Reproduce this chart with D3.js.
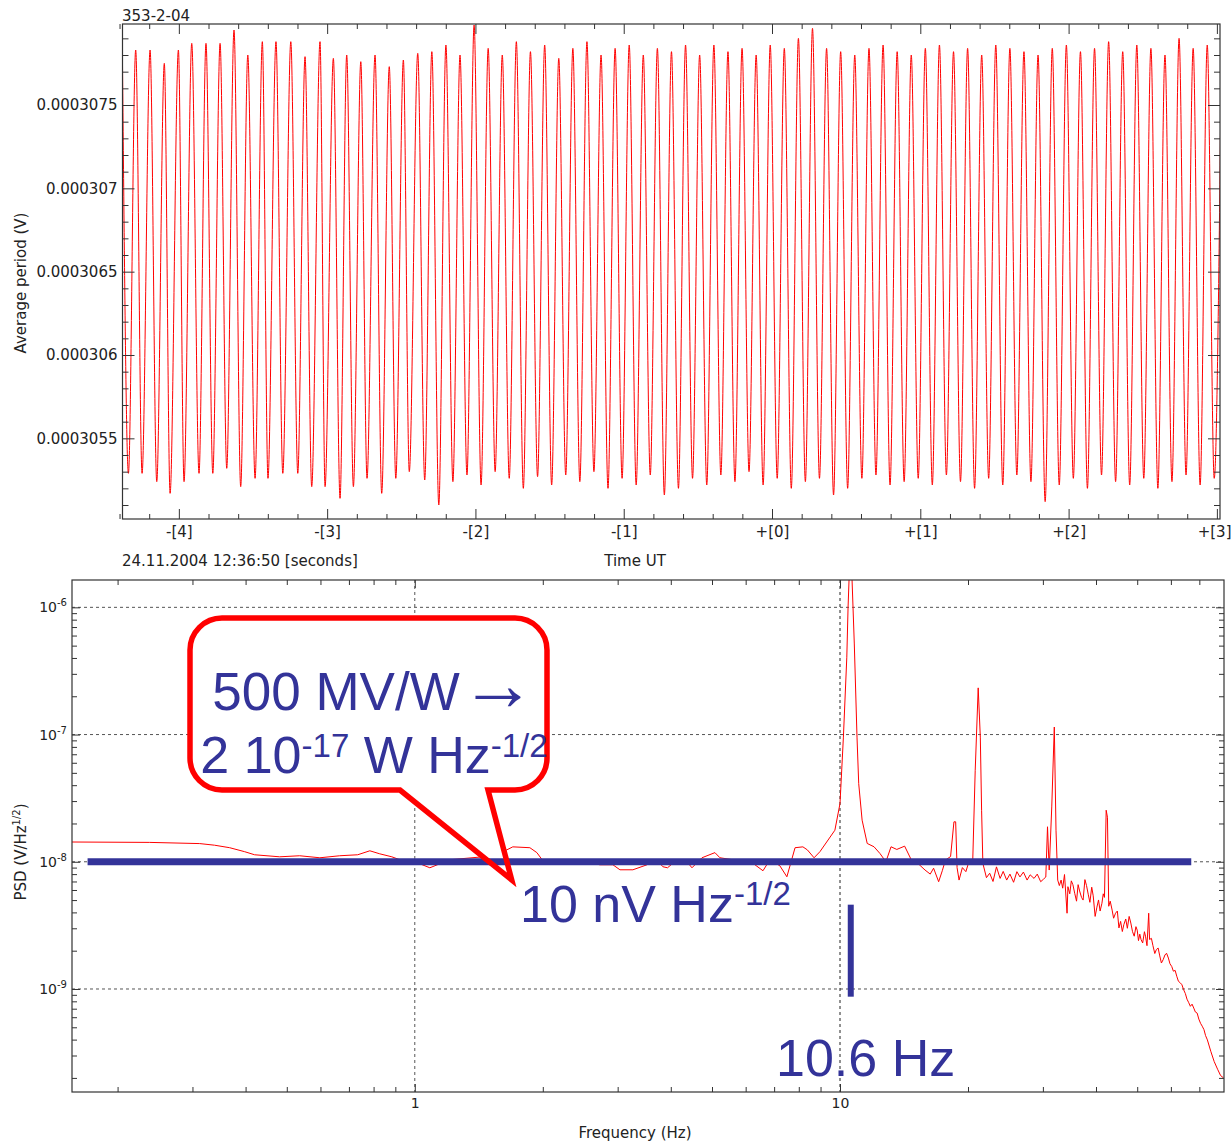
<!DOCTYPE html>
<html>
<head>
<meta charset="utf-8">
<title>Bolometer output and noise spectrum</title>
<script src="https://cdn.jsdelivr.net/npm/d3@7"></script>
<style>
  html, body { margin: 0; padding: 0; background: #fff; }
  svg { display: block; }
  text { white-space: pre; }
  .axis line { stroke: #333; }
  .axis text { font-family: "DejaVu Sans", sans-serif; fill: #222; }
  .lbl { font-family: "DejaVu Sans", sans-serif; fill: #222; }
  .note { font-family: "Liberation Sans", Arial, sans-serif; fill: #333399; }
</style>
</head>
<body>
<svg id="fig" width="1232" height="1142"></svg>
<script>
// ---------------- upper panel: averaged period signal ----------------
// turning points of the trace: time (s from 12:36:50) and value (µV)
const waveTime = [
  -4.380, -4.340, -4.291, -4.248, -4.194, -4.149, -4.098, -4.059, -4.003, -3.965,
  -3.913, -3.864, -3.817, -3.771, -3.722, -3.677, -3.628, -3.583, -3.535, -3.486,
  -3.437, -3.399, -3.345, -3.299, -3.245, -3.198, -3.149, -3.104, -3.048, -3.014,
  -2.958, -2.913, -2.868, -2.823, -2.773, -2.731, -2.677, -2.632, -2.581, -2.537,
  -2.486, -2.446, -2.389,
  -2.342, -2.294, -2.247, -2.199, -2.152, -2.104, -2.057, -2.009, -1.962, -1.914,
  -1.867, -1.819, -1.772, -1.724, -1.677, -1.629, -1.581, -1.533, -1.486, -1.438,
  -1.391, -1.343, -1.296, -1.248, -1.201, -1.153, -1.106, -1.058, -1.011, -0.963,
  -0.916, -0.868, -0.821, -0.773, -0.726, -0.678, -0.631, -0.583, -0.536, -0.488,
  -0.440, -0.392, -0.345, -0.297, -0.250, -0.202, -0.155, -0.107, -0.060, -0.012,
   0.035,  0.083,  0.130,  0.178,  0.225,  0.273,  0.320,  0.368,  0.415,  0.463,
   0.510,  0.558,  0.606,  0.654,  0.701,  0.749,  0.796,  0.844,  0.891,  0.939,
   0.986,  1.034,  1.081,  1.129,  1.176,  1.224,  1.271,  1.319,  1.366,  1.414,
   1.461,  1.509,  1.556,  1.604,  1.651,  1.699,  1.746,  1.794,  1.842,  1.890,
   1.937,  1.985,  2.032,  2.080,  2.127,  2.175,  2.222,  2.270,  2.317,  2.365,
   2.412,  2.460,  2.507,  2.555,  2.602,  2.650,  2.697,  2.745,  2.792,  2.840,
   2.887,  2.935,  2.982,  3.030
];
const waveValue = [
  307.74, 305.29, 307.83, 305.29, 307.83, 305.24, 307.75, 305.17, 307.83, 305.24,
  307.87, 305.29, 307.87, 305.29, 307.87, 305.32, 307.95, 305.21, 307.80, 305.26,
  307.88, 305.26, 307.88, 305.29, 307.88, 305.29, 307.79, 305.21, 307.88, 305.21,
  307.78, 305.14, 307.80, 305.21, 307.76, 305.26, 307.80, 305.17, 307.73, 305.26,
  307.77, 305.30, 307.81,
  305.25, 307.82, 305.10, 307.86, 305.24, 307.80, 305.28, 307.98, 305.22, 307.84,
  305.30, 307.80, 305.26, 307.88, 305.20, 307.82, 305.27, 307.86, 305.22, 307.78,
  305.28, 307.84, 305.24, 307.88, 305.30, 307.80, 305.20, 307.84, 305.26, 307.86,
  305.22, 307.80, 305.28, 307.84, 305.16, 307.82, 305.20, 307.86, 305.26, 307.80,
  305.22, 307.86, 305.28, 307.82, 305.24, 307.84, 305.30, 307.80, 305.22, 307.86,
  305.26, 307.84, 305.20, 307.90, 305.24, 307.96, 305.26, 307.84, 305.16, 307.82,
  305.20, 307.80, 305.26, 307.84, 305.28, 307.86, 305.22, 307.82, 305.24, 307.80,
  305.26, 307.84, 305.22, 307.86, 305.28, 307.82, 305.24, 307.84, 305.20, 307.80,
  305.26, 307.86, 305.22, 307.84, 305.28, 307.82, 305.24, 307.80, 305.12, 307.84,
  305.22, 307.86, 305.26, 307.82, 305.20, 307.84, 305.28, 307.88, 305.24, 307.82,
  305.22, 307.86, 305.26, 307.84, 305.20, 307.80, 305.24, 307.90, 305.28, 307.84,
  305.22, 307.86, 305.26, 307.78
];
const timeDomain = [-4.38, 3.021];
const valueDomain = [305.016, 307.986];            // µV
const timeTicks = [-4, -3, -2, -1, 0, 1, 2, 3];
const timeTickLabels = ["-[4]", "-[3]", "-[2]", "-[1]", "+[0]", "+[1]", "+[2]", "+[3]"];
const valueTicks = [305.5, 306, 306.5, 307, 307.5];  // µV
const valueTickLabels = ["0.0003055", "0.000306", "0.0003065", "0.000307", "0.0003075"];

// ---------------- lower panel: noise spectral density ----------------
const psdFreq = [
  0.15625, 0.238, 0.312, 0.338, 0.367, 0.398, 0.420, 0.481, 0.536, 0.598,
  0.666, 0.734, 0.784, 0.827, 0.883, 0.922, 1.0, 1.085, 1.209, 1.445,
  1.646, 1.70, 1.865, 1.937, 2.0, 2.16, 2.354, 2.581, 2.725, 2.924,
  3.037, 3.258, 3.516, 3.71, 3.832, 3.93, 4.135, 4.365, 4.486, 4.735,
  5.08, 5.22, 5.60, 6.04, 6.31, 6.59, 6.84, 7.22, 7.50, 7.84,
  8.18, 8.38, 8.69, 8.97, 9.727, 10.0, 10.186, 10.375, 10.447, 10.51,
  10.666, 10.805, 10.965, 11.066, 11.272, 11.588, 12.023, 12.417, 12.823, 13.183,
  13.6, 14.191, 14.723, 15.2, 15.849, 16.3, 16.6, 17.061, 17.4, 17.701,
  18.2, 18.535, 18.707, 18.85, 19.055, 19.4, 19.770, 20.1, 20.512, 20.797,
  21.135, 21.380, 21.528, 21.677, 22.1, 22.491, 22.9, 23.335, 23.8, 24.2,
  24.660, 25.1, 25.6, 26.061, 26.5, 27.0, 27.542, 28.0, 28.6, 29.1,
  29.648, 30.1, 30.479, 30.761, 31.046, 31.477, 31.915, 32.211, 32.509, 32.8,
  33.113, 33.4, 33.729, 34.198, 34.356, 34.7, 34.995, 35.3, 35.645, 36.0,
  36.308, 36.6, 36.983, 37.3, 37.670, 38.0, 38.371, 38.7, 39.084, 39.4,
  39.811, 40.2, 40.551, 40.9, 41.305, 41.6, 41.879, 42.267, 42.560, 42.855,
  43.2, 43.652, 44.0, 44.463, 44.9, 45.290, 45.7, 46.132, 46.5, 46.989,
  47.4, 47.863, 48.3, 48.753, 49.2, 49.659, 50.0, 50.350, 50.7, 51.050,
  51.5, 51.999, 52.3, 52.723, 53.211, 53.456, 54.0, 54.450, 55.0, 55.463,
  56.0, 56.494, 57.0, 57.544, 58.1, 58.614, 59.2, 59.704, 60.3, 60.814,
  61.4, 61.944, 62.5, 63.096, 63.7, 64.269, 64.9, 65.464, 66.1, 66.681,
  67.3, 67.920, 68.5, 69.183, 69.8, 70.469, 71.1, 71.779, 72.4, 73.114,
  74.473, 75.858, 77.268, 78.524, 79.8
];
const psdValue = [
  1.43e-8, 1.42e-8, 1.39e-8, 1.35e-8, 1.29e-8, 1.20e-8, 1.135e-8, 1.094e-8, 1.115e-8, 1.075e-8,
  1.115e-8, 1.135e-8, 1.22e-8, 1.155e-8, 1.094e-8, 1.037e-8, 1.0e-8, 8.97e-9, 1.037e-8, 1.094e-8,
  1.24e-8, 1.31e-8, 1.29e-8, 1.18e-8, 1.02e-8, 1.02e-8, 1.037e-8, 9.8e-9, 9.47e-9, 9.47e-9,
  8.65e-9, 8.65e-9, 9.47e-9, 1.037e-8, 9.14e-9, 8.97e-9, 1.037e-8, 1.0e-8, 8.97e-9, 1.075e-8,
  1.18e-8, 1.075e-8, 1.037e-8, 1.037e-8, 9.47e-9, 8.5e-9, 1.037e-8, 9.3e-9, 7.62e-9, 1.29e-8,
  1.31e-8, 1.24e-8, 1.075e-8, 1.2e-8, 1.77e-8, 2.871e-8, 9.55e-8, 4.055e-7, 1.0e-6, 1.78e-6,
  1.78e-6, 5.152e-7, 9.55e-8, 4.111e-8, 2.123e-8, 1.393e-8, 1.312e-8, 1.161e-8, 1.0e-8, 1.312e-8,
  1.25e-8, 1.327e-8, 1.03e-8, 9.8e-9, 8.61e-9, 8.0e-9, 8.9e-9, 6.97e-9, 8.5e-9, 1.03e-8,
  1.1e-8, 2.061e-8, 2.061e-8, 9.0e-9, 7.18e-9, 9.0e-9, 8.36e-9, 1.0e-8, 9.71e-9, 5.236e-8,
  2.328e-7, 9.55e-8, 2.541e-8, 9.71e-9, 7.5e-9, 8.13e-9, 7.0e-9, 9.12e-9, 7.4e-9, 8.4e-9,
  7.18e-9, 8.0e-9, 6.9e-9, 8.36e-9, 7.6e-9, 8.3e-9, 7.18e-9, 7.9e-9, 7.4e-9, 8.0e-9,
  6.97e-9, 7.3e-9, 7.59e-9, 1.884e-8, 8.61e-9, 2.698e-8, 1.146e-7, 1.77e-8, 7.18e-9, 6.5e-9,
  7.18e-9, 6.2e-9, 7.94e-9, 3.94e-9, 6.37e-9, 5.6e-9, 7.08e-9, 6.6e-9, 5.65e-9, 4.9e-9,
  6.61e-9, 5.9e-9, 5.25e-9, 5.0e-9, 7.24e-9, 6.5e-9, 5.50e-9, 4.8e-9, 6.31e-9, 5.4e-9,
  3.72e-9, 4.4e-9, 5.01e-9, 4.1e-9, 4.72e-9, 5.6e-9, 5.25e-9, 2.541e-8, 2.239e-8, 4.47e-9,
  4.9e-9, 4.17e-9, 3.6e-9, 3.94e-9, 4.1e-9, 3.02e-9, 3.4e-9, 2.83e-9, 3.2e-9, 3.55e-9,
  3.0e-9, 3.72e-9, 3.3e-9, 2.82e-9, 2.6e-9, 3.09e-9, 2.9e-9, 2.40e-9, 2.7e-9, 2.45e-9,
  2.3e-9, 2.82e-9, 2.6e-9, 2.19e-9, 3.94e-9, 2.45e-9, 2.5e-9, 2.19e-9, 1.9e-9, 2.04e-9,
  2.1e-9, 1.82e-9, 1.6e-9, 1.70e-9, 1.85e-9, 1.91e-9, 1.75e-9, 1.58e-9, 1.5e-9, 1.38e-9,
  1.4e-9, 1.26e-9, 1.15e-9, 1.12e-9, 1.08e-9, 9.89e-10, 9.2e-10, 8.32e-10, 7.8e-10, 7.31e-10,
  7.6e-10, 7.08e-10, 6.6e-10, 6.46e-10, 5.8e-10, 5.37e-10, 5.1e-10, 4.79e-10, 4.3e-10, 3.98e-10,
  3.24e-10, 2.69e-10, 2.34e-10, 2.09e-10, 2.0e-10
];
const freqDomain = [0.15625, 80];
const psdDomain = [1.55e-10, 1.64e-6];
const freqTicks = [1, 10];
const freqTickLabels = ["1", "10"];
const psdTicks = [1e-9, 1e-8, 1e-7, 1e-6];
const psdTickExponents = ["-9", "-8", "-7", "-6"];

// annotations
const noiseLevel = 1e-8;             // 10 nV Hz^-1/2
const noiseBand = [0.17, 67];        // Hz
const lineFreq = 10.6;               // Hz
const lineMarkRange = [8.7e-10, 4.6e-9];
const calloutTip = [1.69, 7.2e-9];   // Hz, V/Hz^1/2

const svg = d3.select("#fig");

function styleAxis(g, size) {
  g.select(".domain").remove();
  g.selectAll(".tick line").attr("stroke", "#333");
  g.selectAll(".tick text").attr("font-size", size).attr("fill", "#222")
    .attr("font-family", "DejaVu Sans, sans-serif");
}
function addAxis(gen, tx, ty, size) {
  return svg.append("g").attr("class", "axis")
    .attr("transform", `translate(${tx},${ty})`)
    .call(gen).call(g => styleAxis(g, size || 15));
}

// ======================= upper panel =======================
const P1 = { l: 122.5, r: 1220, t: 24, b: 519 };
const x1 = d3.scaleLinear().domain(timeDomain).range([P1.l, P1.r]);
const y1 = d3.scaleLinear().domain(valueDomain).range([P1.b, P1.t]);

svg.append("clipPath").attr("id", "clip1").append("rect")
  .attr("x", P1.l).attr("y", P1.t).attr("width", P1.r - P1.l).attr("height", P1.b - P1.t);

const wave = waveTime.map((t, i) => [t, waveValue[i]]);
svg.append("path").datum(wave)
  .attr("clip-path", "url(#clip1)")
  .attr("fill", "none").attr("stroke", "#ff0000").attr("stroke-width", 1)
  .attr("d", d3.line().x(d => x1(d[0])).y(d => y1(d[1])).curve(d3.curveMonotoneX));

const timeMinor = d3.range(-44, 31, 2).map(v => v / 10).filter(v => !Number.isInteger(v));
const valueMinor = d3.range(3051, 3080, 1).map(v => v / 10).filter(v => valueTicks.indexOf(v) < 0);

const timeAxis = addAxis(d3.axisBottom(x1).tickValues(timeTicks).tickFormat((d, i) => timeTickLabels[i]).tickSize(-10).tickPadding(7), 0, P1.b);
// keep the last label inside the page
timeAxis.selectAll(".tick text").filter((d, i) => i === timeTicks.length - 1)
  .attr("text-anchor", "end").attr("x", 1231 - x1(timeTicks[timeTicks.length - 1]));
addAxis(d3.axisBottom(x1).tickValues(timeMinor).tickFormat("").tickSize(-5), 0, P1.b);
addAxis(d3.axisTop(x1).tickValues(timeTicks).tickFormat("").tickSize(-10), 0, P1.t);
addAxis(d3.axisTop(x1).tickValues(timeMinor).tickFormat("").tickSize(-5), 0, P1.t);
addAxis(d3.axisLeft(y1).tickValues(valueTicks).tickFormat((d, i) => valueTickLabels[i]).tickSize(-12).tickPadding(5), P1.l, 0);
addAxis(d3.axisLeft(y1).tickValues(valueMinor).tickFormat("").tickSize(-6), P1.l, 0);
addAxis(d3.axisRight(y1).tickValues(valueTicks).tickFormat("").tickSize(-12), P1.r, 0);
addAxis(d3.axisRight(y1).tickValues(valueMinor).tickFormat("").tickSize(-6), P1.r, 0);

svg.append("rect").attr("x", P1.l).attr("y", P1.t).attr("width", P1.r - P1.l).attr("height", P1.b - P1.t)
  .attr("fill", "none").attr("stroke", "#333").attr("stroke-width", 1.2);

svg.append("text").attr("class", "lbl").attr("x", 122).attr("y", 21).attr("font-size", 15).text("353-2-04");
svg.append("text").attr("class", "lbl").attr("x", 122).attr("y", 566).attr("font-size", 15).text("24.11.2004 12:36:50 [seconds]");
svg.append("text").attr("class", "lbl").attr("x", 635).attr("y", 566).attr("font-size", 15)
  .attr("text-anchor", "middle").text("Time UT");
svg.append("text").attr("class", "lbl").attr("font-size", 15).attr("text-anchor", "middle")
  .attr("transform", "translate(26,283) rotate(-90)").text("Average period (V)");

// ======================= lower panel =======================
const P2 = { l: 72, r: 1224, t: 580, b: 1092 };
const x2 = d3.scaleLog().domain(freqDomain).range([P2.l, P2.r]);
const y2 = d3.scaleLog().domain(psdDomain).range([P2.b, P2.t]);

svg.append("clipPath").attr("id", "clip2").append("rect")
  .attr("x", P2.l).attr("y", P2.t).attr("width", P2.r - P2.l).attr("height", P2.b - P2.t);

// dotted decade grid
const grid = svg.append("g").attr("stroke", "#555").attr("stroke-width", 1).attr("stroke-dasharray", "3,3");
grid.selectAll("line.h").data(psdTicks).join("line").attr("class", "h")
  .attr("x1", P2.l).attr("x2", P2.r).attr("y1", d => y2(d)).attr("y2", d => y2(d));
grid.selectAll("line.v").data(freqTicks).join("line").attr("class", "v")
  .attr("y1", P2.t).attr("y2", P2.b).attr("x1", d => x2(d)).attr("x2", d => x2(d))
  .attr("stroke", (d, i) => i === 1 ? "#222" : "#555");

// spectrum
const psd = psdFreq.map((f, i) => [f, psdValue[i]]);
svg.append("path").datum(psd)
  .attr("clip-path", "url(#clip2)")
  .attr("fill", "none").attr("stroke", "#ff0000").attr("stroke-width", 1)
  .attr("d", d3.line().x(d => x2(d[0])).y(d => y2(d[1])));

// ticks
const freqMinor = [0.2, 0.3, 0.4, 0.5, 0.6, 0.7, 0.8, 0.9, 2, 3, 4, 5, 6, 7, 8, 9, 20, 30, 40, 50, 60, 70];
const psdMinor = [];
[-10, -9, -8, -7, -6].forEach(e => { for (let k = 2; k <= 9; k++) { const v = k * Math.pow(10, e); if (v > psdDomain[0] && v < psdDomain[1]) psdMinor.push(v); } });

addAxis(d3.axisBottom(x2).tickValues(freqTicks).tickFormat((d, i) => freqTickLabels[i]).tickSize(-8).tickPadding(6), 0, P2.b, 14);
addAxis(d3.axisBottom(x2).tickValues(freqMinor).tickFormat("").tickSize(-5), 0, P2.b);
addAxis(d3.axisTop(x2).tickValues(freqTicks).tickFormat("").tickSize(-8), 0, P2.t);
addAxis(d3.axisTop(x2).tickValues(freqMinor).tickFormat("").tickSize(-5), 0, P2.t);
addAxis(d3.axisLeft(y2).tickValues(psdTicks).tickFormat("").tickSize(-8), P2.l, 0);
addAxis(d3.axisLeft(y2).tickValues(psdMinor).tickFormat("").tickSize(-5), P2.l, 0);
addAxis(d3.axisRight(y2).tickValues(psdTicks).tickFormat("").tickSize(-8), P2.r, 0);
addAxis(d3.axisRight(y2).tickValues(psdMinor).tickFormat("").tickSize(-5), P2.r, 0);

// power-of-ten tick labels
psdTicks.forEach((v, i) => {
  const t = svg.append("text").attr("class", "lbl").attr("x", P2.l - 5).attr("y", y2(v) + 5)
    .attr("text-anchor", "end").attr("font-size", 14);
  t.append("tspan").text("10");
  t.append("tspan").attr("dy", -6).attr("font-size", 10).text(psdTickExponents[i]);
});

svg.append("rect").attr("x", P2.l).attr("y", P2.t).attr("width", P2.r - P2.l).attr("height", P2.b - P2.t)
  .attr("fill", "none").attr("stroke", "#333").attr("stroke-width", 1.2);

svg.append("text").attr("class", "lbl").attr("x", 635).attr("y", 1138).attr("font-size", 15)
  .attr("text-anchor", "middle").text("Frequency (Hz)");
{
  const t = svg.append("text").attr("class", "lbl").attr("font-size", 15).attr("text-anchor", "middle")
    .attr("transform", "translate(26,852) rotate(-90)");
  t.append("tspan").text("PSD (V/Hz");
  t.append("tspan").attr("dy", -6).attr("font-size", 10).text("1/2");
  t.append("tspan").attr("dy", 6).text(")");
}

// ---------------- annotations ----------------
const blue = "#333399";
const tipX = x2(calloutTip[0]), tipY = y2(calloutTip[1]);
const bx0 = 190, bx1 = 547, by0 = 618, by1 = 790, r = 32;
const callout = d3.path();
callout.moveTo(bx0 + r, by0);
callout.lineTo(bx1 - r, by0);
callout.arcTo(bx1, by0, bx1, by0 + r, r);
callout.lineTo(bx1, by1 - r);
callout.arcTo(bx1, by1, bx1 - r, by1, r);
callout.lineTo(488, by1);
callout.lineTo(tipX, tipY);
callout.lineTo(400, by1);
callout.lineTo(bx0 + r, by1);
callout.arcTo(bx0, by1, bx0, by1 - r, r);
callout.lineTo(bx0, by0 + r);
callout.arcTo(bx0, by0, bx0 + r, by0, r);
callout.closePath();

svg.append("path").attr("d", callout.toString()).attr("fill", "#fff").attr("stroke", "none");

// noise floor bar
svg.append("line")
  .attr("x1", x2(noiseBand[0])).attr("x2", x2(noiseBand[1]))
  .attr("y1", y2(noiseLevel)).attr("y2", y2(noiseLevel))
  .attr("stroke", blue).attr("stroke-width", 7);

svg.append("path").attr("d", callout.toString()).attr("fill", "none")
  .attr("stroke", "#ff0000").attr("stroke-width", 5.5).attr("stroke-linejoin", "miter");

// 10.6 Hz marker
svg.append("line")
  .attr("x1", x2(lineFreq)).attr("x2", x2(lineFreq))
  .attr("y1", y2(lineMarkRange[0])).attr("y2", y2(lineMarkRange[1]))
  .attr("stroke", blue).attr("stroke-width", 6);

// callout text
{
  const t = svg.append("text").attr("class", "note").attr("x", 374).attr("y", 710).attr("font-size", 53)
    .attr("text-anchor", "middle");
  t.append("tspan").text("500 MV/W");
  t.append("tspan").attr("font-size", 76).text("\u2192");
}
{
  const t = svg.append("text").attr("class", "note").attr("x", 374).attr("y", 773).attr("font-size", 52)
    .attr("text-anchor", "middle");
  t.append("tspan").text("2 10");
  t.append("tspan").attr("dy", -16).attr("font-size", 33).text("-17");
  t.append("tspan").attr("dy", 16).text(" W Hz");
  t.append("tspan").attr("dy", -16).attr("font-size", 33).text("-1/2");
}
{
  const t = svg.append("text").attr("class", "note").attr("x", 520).attr("y", 922).attr("font-size", 52);
  t.append("tspan").text("10 nV Hz");
  t.append("tspan").attr("dy", -17).attr("font-size", 33).text("-1/2");
}
svg.append("text").attr("class", "note").attr("x", 776).attr("y", 1076).attr("font-size", 52).text("10.6 Hz");
</script>
</body>
</html>
